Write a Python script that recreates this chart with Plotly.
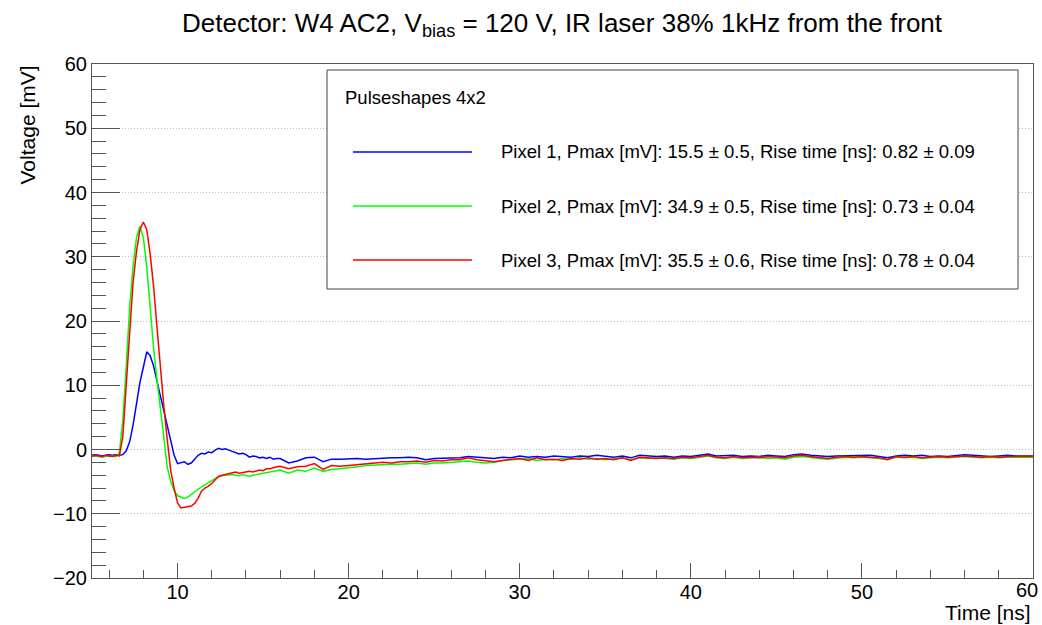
import plotly.graph_objects as go

# ---------------- data ----------------
TIME = [
    5.0, 5.2, 5.4, 5.6, 5.8, 6.0, 6.2, 6.4, 6.6, 6.8,
    7.0, 7.2, 7.4, 7.6, 7.8, 8.0, 8.2, 8.4, 8.6, 8.8,
    9.0, 9.2, 9.4, 9.6, 9.8, 10.0, 10.2, 10.4, 10.6, 10.8,
    11.0, 11.2, 11.4, 11.6, 11.8, 12.0, 12.2, 12.4, 12.6, 12.8,
    13.0, 13.2, 13.4, 13.6, 13.8, 14.0, 14.2, 14.4, 14.6, 14.8,
    15.0, 15.2, 15.4, 15.6, 15.8, 16.0,
    16.5, 17.0, 17.5, 18.0, 18.5, 19.0, 19.5, 20.0, 20.5, 21.0,
    21.5, 22.0, 22.5, 23.0, 23.5, 24.0, 24.5, 25.0, 25.5, 26.0,
    26.5, 27.0, 27.5, 28.0, 28.5, 29.0, 29.5, 30.0, 30.5, 31.0,
    31.5, 32.0, 32.5, 33.0, 33.5, 34.0, 34.5, 35.0, 35.5, 36.0,
    36.5, 37.0, 37.5, 38.0, 38.5, 39.0, 39.5, 40.0, 40.5, 41.0,
    41.5, 42.0, 42.5, 43.0, 43.5, 44.0, 44.5, 45.0, 45.5, 46.0,
    46.5, 47.0, 47.5, 48.0, 48.5, 49.0, 49.5, 50.0, 50.5, 51.0,
    51.5, 52.0, 52.5, 53.0, 53.5, 54.0, 54.5, 55.0, 55.5, 56.0,
    56.5, 57.0, 57.5, 58.0, 58.5, 59.0, 59.5, 60.0,
]

PIXEL1 = [
    -0.9, -0.8, -0.9, -1.0, -0.9, -0.8, -0.9, -0.8, -0.9, -0.8,
    -0.2, 1.2, 3.8, 7.5, 10.4, 12.8, 15.2, 14.6, 13.0, 10.6,
    8.2, 6.0, 3.5, 1.0, -0.9, -2.2, -2.1, -1.9, -2.3, -2.1,
    -1.5, -0.9, -0.6, -0.7, -0.4, -0.5, -0.1, 0.2, 0.0, 0.1,
    -0.1, -0.3, -0.5, -0.7, -0.6, -0.8, -1.2, -1.0, -1.1, -1.3,
    -1.2, -1.4, -1.2, -1.5, -1.4, -1.4,
    -2.1, -1.8, -1.3, -1.2, -1.9, -1.5, -1.5, -1.45, -1.4, -1.5,
    -1.4, -1.4, -1.3, -1.3, -1.2, -1.3, -1.6, -1.4, -1.4, -1.3,
    -1.3, -1.1, -1.2, -1.3, -1.4, -1.2, -1.3, -1.0, -1.2, -1.1,
    -1.2, -1.0, -1.1, -1.2, -1.0, -1.1, -0.9, -1.1, -1.2, -1.0,
    -1.3, -0.9, -1.0, -1.1, -1.0, -1.2, -1.0, -1.1, -0.9, -0.7,
    -1.0, -1.0, -0.9, -1.1, -1.0, -1.1, -0.9, -1.0, -1.1, -0.8,
    -0.7, -0.9, -1.0, -1.1, -1.0, -1.0, -0.9, -1.0, -0.9, -1.1,
    -1.3, -1.0, -0.9, -1.0, -0.9, -1.1, -1.0, -1.1, -0.9, -0.8,
    -0.9, -1.0, -1.1, -1.0, -0.9, -1.0, -1.0, -1.0,
]

PIXEL2 = [
    -1.1, -1.0, -1.1, -1.2, -1.0, -1.1, -1.0, -1.1, -0.5, 4.5,
    13.0, 22.0, 28.5, 33.0, 34.7, 33.0, 28.5, 21.5, 15.8, 10.8,
    6.6, 1.9, -2.8, -5.0, -6.4, -7.2, -7.4, -7.6, -7.4, -7.0,
    -6.6, -6.1, -5.8, -5.5, -5.2, -4.9, -4.5, -4.2, -4.1, -4.0,
    -4.0, -3.9, -4.0, -4.1, -3.9, -4.0, -4.2, -4.0, -3.9, -3.8,
    -3.8, -3.7, -3.6, -3.5, -3.4, -3.2,
    -3.7, -3.2, -3.4, -2.9, -3.4, -3.1, -3.0, -2.9, -2.7, -2.5,
    -2.4, -2.4, -2.3, -2.3, -2.2, -2.1, -2.3, -2.1, -2.1, -2.0,
    -1.9, -1.8, -2.0, -2.1, -2.0, -1.7, -1.6, -1.5, -1.4, -1.7,
    -1.5, -1.6, -1.4, -1.5, -1.3, -1.5, -1.4, -1.6, -1.4, -1.3,
    -1.6, -1.3, -1.4, -1.3, -1.4, -1.5, -1.3, -1.4, -1.2, -1.0,
    -1.3, -1.4, -1.2, -1.4, -1.3, -1.2, -1.4, -1.3, -1.5, -1.2,
    -1.1, -1.3, -1.4, -1.5, -1.3, -1.2, -1.3, -1.2, -1.3, -1.4,
    -1.5, -1.2, -1.3, -1.2, -1.4, -1.3, -1.2, -1.3, -1.2, -1.1,
    -1.2, -1.3, -1.2, -1.3, -1.2, -1.2, -1.1, -1.2,
]

PIXEL3 = [
    -1.0, -0.9, -1.0, -1.1, -0.9, -1.0, -1.1, -0.9, -1.0, 2.0,
    10.0, 19.0, 26.0, 30.8, 34.2, 35.4, 34.2, 30.4, 25.4, 19.0,
    12.4, 6.7, 1.5, -3.3, -6.0, -8.3, -9.1, -9.0, -8.8, -8.8,
    -8.4, -7.6, -6.5, -6.0, -5.7, -5.3, -4.7, -4.2, -4.0, -3.9,
    -3.8, -3.7, -3.5, -3.7, -3.6, -3.4, -3.4, -3.5, -3.4, -3.2,
    -3.3, -3.0, -3.0, -2.8, -2.7, -2.6,
    -3.0, -2.7, -2.6, -2.2, -3.1, -2.5, -2.6, -2.5, -2.4, -2.2,
    -2.1, -2.0, -2.1, -1.9, -1.9, -1.8, -2.0, -1.7, -1.8, -1.6,
    -1.6, -1.3, -1.6, -1.8, -1.9, -1.7, -1.5, -1.4, -1.7, -1.3,
    -1.6, -1.5, -1.7, -1.4, -1.5, -1.3, -1.5, -1.4, -1.6, -1.3,
    -1.7, -1.2, -1.3, -1.4, -1.3, -1.4, -1.2, -1.3, -1.1, -0.9,
    -1.2, -1.3, -1.1, -1.3, -1.2, -1.3, -1.1, -1.2, -1.3, -1.0,
    -0.9, -1.1, -1.2, -1.4, -1.2, -1.1, -1.2, -1.1, -1.2, -1.3,
    -1.6, -1.1, -1.2, -1.1, -1.3, -1.2, -1.1, -1.2, -1.1, -1.0,
    -1.1, -1.2, -1.1, -1.2, -1.1, -1.1, -1.0, -1.1,
]

NAMES = ["Pixel 1", "Pixel 2", "Pixel 3"]
PMAX = ["15.5", "34.9", "35.5"]
PMAX_ERR = ["0.5", "0.5", "0.6"]
RISE = ["0.82", "0.73", "0.78"]
RISE_ERR = ["0.09", "0.04", "0.04"]
COLORS = ["#0000ff", "#00ff00", "#ff0000"]
LEGEND_HEADER = "Pulseshapes 4x2"
TITLE = "Detector: W4 AC2, V<sub>bias</sub> = 120 V, IR laser 38% 1kHz from the front"
X_TITLE = "Time [ns]"
Y_TITLE = "Voltage [mV]"
X_RANGE = [5, 60]
Y_RANGE = [-20, 60]
X_TICKS = [10, 20, 30, 40, 50, 60]

FONT = "Liberation Sans, Arial, Helvetica, sans-serif"
AXIS_COLOR = "#555555"

# ---------------- figure ----------------
fig = go.Figure()
for ys, name, col in zip([PIXEL1, PIXEL2, PIXEL3], NAMES, COLORS):
    fig.add_trace(go.Scatter(x=TIME, y=ys, mode="lines", name=name,
                             line=dict(color=col, width=1.5),
                             showlegend=False, hoverinfo="x+y+name"))

W, H = 1042, 625
L, R, T, B = 92, 9, 64, 47
pw, ph = W - L - R, H - T - B


def px_x(p):
    return (p - L) / pw


def px_y(p):
    return (H - B - p) / ph


fig.update_layout(
    width=W, height=H, autosize=False,
    margin=dict(l=L, r=R, t=T, b=B, pad=0, autoexpand=False),
    paper_bgcolor="white", plot_bgcolor="white",
    font=dict(family=FONT, color="black", size=20),
    showlegend=False,
)

# last x label is drawn separately (shifted inside, as ROOT does at the pad edge)
x_ticktext = [str(v) for v in X_TICKS[:-1]] + [""]
fig.update_xaxes(
    range=X_RANGE, showgrid=False, zeroline=False, automargin=False,
    showline=True, linecolor=AXIS_COLOR, linewidth=1, mirror=True,
    ticks="inside", ticklen=15, tickwidth=1, tickcolor=AXIS_COLOR,
    tickmode="array", tickvals=X_TICKS, ticktext=x_ticktext,
    tickfont=dict(size=20), ticklabelstandoff=-4,
    minor=dict(ticks="inside", ticklen=8, tickcolor=AXIS_COLOR, dtick=2, tick0=0, showgrid=False),
)
fig.update_yaxes(
    range=Y_RANGE, showgrid=True, gridcolor="#bdbdbd", griddash="1px,2px", gridwidth=1,
    zeroline=False, automargin=False,
    showline=True, linecolor=AXIS_COLOR, linewidth=1, mirror=True,
    ticks="inside", ticklen=28, tickwidth=1, tickcolor=AXIS_COLOR,
    tick0=0, dtick=10, tickfont=dict(size=20),
    minor=dict(ticks="inside", ticklen=14, tickcolor=AXIS_COLOR, dtick=2, tick0=0, showgrid=False),
)

annotations = [
    dict(text=TITLE, xref="paper", yref="paper", x=0.5, y=px_y(24),
         xanchor="center", yanchor="middle", showarrow=False, font=dict(size=26)),
    dict(text=Y_TITLE, xref="paper", yref="paper", x=px_x(27), y=1.0,
         xanchor="center", yanchor="top", textangle=-90, showarrow=False, font=dict(size=21)),
    dict(text=X_TITLE, xref="paper", yref="paper", x=1.0, y=px_y(612),
         xanchor="right", yanchor="middle", showarrow=False, font=dict(size=21)),
    dict(text=str(X_TICKS[-1]), xref="x", yref="paper", x=X_TICKS[-1], xshift=7,
         y=px_y(590), xanchor="right", yanchor="middle", showarrow=False, font=dict(size=20)),
    dict(text=LEGEND_HEADER, xref="paper", yref="paper", x=px_x(343), y=px_y(97),
         xanchor="left", yanchor="middle", showarrow=False, font=dict(size=18.5)),
]

shapes = [
    dict(type="rect", xref="paper", yref="paper",
         x0=px_x(327), x1=px_x(1018), y0=px_y(289), y1=px_y(70),
         line=dict(color="#444444", width=1), fillcolor="white", layer="above"),
]

row_y = [152, 206, 260]
for i in range(3):
    shapes.append(dict(type="line", xref="paper", yref="paper",
                       x0=px_x(353), x1=px_x(472), y0=px_y(row_y[i]), y1=px_y(row_y[i]),
                       line=dict(color=COLORS[i], width=1.5), layer="above"))
    label = (f"{NAMES[i]}, Pmax [mV]: {PMAX[i]} \u00b1 {PMAX_ERR[i]}, "
             f"Rise time [ns]: {RISE[i]} \u00b1 {RISE_ERR[i]}")
    annotations.append(dict(text=label, xref="paper", yref="paper",
                            x=px_x(499), y=px_y(row_y[i]),
                            xanchor="left", yanchor="middle", showarrow=False,
                            font=dict(size=18.5)))

fig.update_layout(annotations=annotations, shapes=shapes)

fig.write_html("out.html")
